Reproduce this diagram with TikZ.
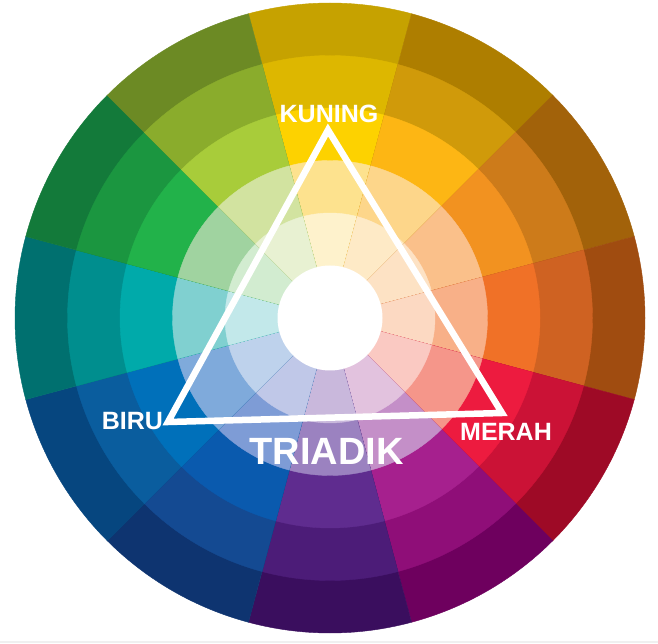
\documentclass[tikz,border=0pt]{standalone}
\usepackage{fontspec}
\setmainfont{Liberation Sans}
\usetikzlibrary{calc}
% colours: s2 = darkest shade, s1 = shade, p = pure, t1 = tint, t2 = light tint
\definecolor{Ys2}{HTML}{C6A200}\definecolor{Ys1}{HTML}{DDB700}\definecolor{Yp}{HTML}{FDD200}\definecolor{Yt1}{HTML}{FDE28E}\definecolor{Yt2}{HTML}{FEF2CC}
\definecolor{YOs2}{HTML}{AE7E00}\definecolor{YOs1}{HTML}{D09A0A}\definecolor{YOp}{HTML}{FDB614}\definecolor{YOt1}{HTML}{FDD68A}\definecolor{YOt2}{HTML}{FEEAC6}
\definecolor{Os2}{HTML}{A2620A}\definecolor{Os1}{HTML}{CD7B1A}\definecolor{Op}{HTML}{F29220}\definecolor{Ot1}{HTML}{FAC08A}\definecolor{Ot2}{HTML}{FDE2C4}
\definecolor{ROs2}{HTML}{A04C10}\definecolor{ROs1}{HTML}{CF6222}\definecolor{ROp}{HTML}{F07127}\definecolor{ROt1}{HTML}{F8B088}\definecolor{ROt2}{HTML}{FCD9C2}
\definecolor{Rs2}{HTML}{9E0A26}\definecolor{Rs1}{HTML}{CB1236}\definecolor{Rp}{HTML}{ED1B3F}\definecolor{Rt1}{HTML}{F5968A}\definecolor{Rt2}{HTML}{FAC9C2}
\definecolor{RVs2}{HTML}{6E005E}\definecolor{RVs1}{HTML}{8F0E78}\definecolor{RVp}{HTML}{A6208E}\definecolor{RVt1}{HTML}{C48FC8}\definecolor{RVt2}{HTML}{E2C2DE}
\definecolor{Vs2}{HTML}{3A0E5E}\definecolor{Vs1}{HTML}{4C1C78}\definecolor{Vp}{HTML}{5F2C8F}\definecolor{Vt1}{HTML}{9B82C0}\definecolor{Vt2}{HTML}{C9B8DC}
\definecolor{BVs2}{HTML}{0E3470}\definecolor{BVs1}{HTML}{144A92}\definecolor{BVp}{HTML}{0A5AAE}\definecolor{BVt1}{HTML}{7E9CD6}\definecolor{BVt2}{HTML}{C0C8E8}
\definecolor{Bs2}{HTML}{06467F}\definecolor{Bs1}{HTML}{0A5D9E}\definecolor{Bp}{HTML}{0070BA}\definecolor{Bt1}{HTML}{7FAADB}\definecolor{Bt2}{HTML}{BED2EC}
\definecolor{Ts2}{HTML}{00706F}\definecolor{Ts1}{HTML}{008E8E}\definecolor{Tp}{HTML}{00AAAA}\definecolor{Tt1}{HTML}{80D0D0}\definecolor{Tt2}{HTML}{C2E8EA}
\definecolor{Gs2}{HTML}{137A3A}\definecolor{Gs1}{HTML}{1B9640}\definecolor{Gp}{HTML}{22B24A}\definecolor{Gt1}{HTML}{A0D3A0}\definecolor{Gt2}{HTML}{D2ECD0}
\definecolor{YGs2}{HTML}{6C8A24}\definecolor{YGs1}{HTML}{8AAC2C}\definecolor{YGp}{HTML}{A8CC3A}\definecolor{YGt1}{HTML}{D2E3A0}\definecolor{YGt2}{HTML}{E8F1D2}
\tikzset{
  wedge/.style={fill=#1, draw=#1, line width=0.4pt},
  tri/.style={draw=white, line width=6.5pt, line join=miter},
  lbl/.style={text=white, inner sep=0pt, font=\bfseries\fontsize{25}{28}\selectfont},
  biglbl/.style={text=white, inner sep=0pt, font=\bfseries\fontsize{38}{42}\selectfont},
}
\begin{document}
\begin{tikzpicture}[x=1pt,y=1pt]
\useasboundingbox (0,0) rectangle (658,643);
\fill[white] (0,0) rectangle (658,643);
\fill[black!6] (0,0) rectangle (658,2);
\begin{scope}[shift={(330,325)}]
  \foreach \a/\c in {90/Y,60/YO,30/O,0/RO,-30/R,-60/RV,-90/V,-120/BV,-150/B,180/T,150/G,120/YG}{
    \foreach \r/\s in {315/s2,262.5/s1,210/p,157.5/t1,105/t2}{
      \filldraw[wedge=\c\s] (0,0) -- (\a-15:\r pt) arc[start angle=\a-15, end angle=\a+15, radius=\r pt] -- cycle;
    }
  }
  \fill[white] (0,0) circle[radius=52.5pt];
\end{scope}
\coordinate (ky) at (328,513);
\coordinate (br) at (168,221);
\coordinate (mr) at (502,230);
\draw[tri] (ky) -- (mr) -- (br) -- cycle;
\node[lbl] (kuning) at (329,529) {KUNING};
\node[lbl] (biru) at (132.5,221.5) {BIRU};
\node[lbl] (merah) at (506,211.5) {MERAH};
\node[biglbl] (triadik) at (326.5,192) {TRIADIK};
\end{tikzpicture}
\end{document}
